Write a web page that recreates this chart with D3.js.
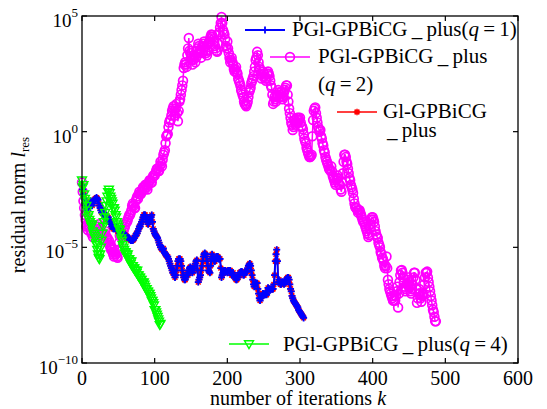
<!DOCTYPE html>
<html>
<head>
<meta charset="utf-8">
<script src="https://cdn.jsdelivr.net/npm/d3@7/dist/d3.min.js"></script>
<style>
  html, body { margin: 0; padding: 0; background: #fff; }
  svg, svg text { font-family: "Liberation Serif", "Times New Roman", Times, serif; }
</style>
</head>
<body>
<svg id="chart" width="547" height="409"></svg>
<script>
// Residual history: log10 of the residual norm, one value per iteration k = 0, 1, 2, ...

// PGl-GPBiCG_plus (q=1)
const q1Log = [
  -2.3,-2.5,-2.7,-2.9,-3.1,-3.2,-3.3,-3.4,-3.4,-3.3,
  -3.2,-3.1,-3.0,-3.1,-3.2,-3.1,-3.0,-2.95,-2.9,-2.9,
  -2.85,-2.9,-2.95,-3.1,-3.2,-3.3,-3.4,-3.5,-3.4,-3.5,
  -3.6,-3.6,-3.7,-3.6,-3.7,-3.8,-3.7,-3.8,-3.9,-3.9,
  -4.0,-4.1,-4.1,-4.2,-4.2,-4.2,-4.1,-4.1,-4.2,-4.3,
  -4.3,-4.3,-4.4,-4.4,-4.3,-4.4,-4.4,-4.4,-4.5,-4.45,
  -4.5,-4.5,-4.55,-4.6,-4.6,-4.6,-4.65,-4.7,-4.7,-4.7,
  -4.7,-4.65,-4.6,-4.5,-4.5,-4.4,-4.4,-4.3,-4.2,-4.1,
  -4.1,-4.0,-3.9,-3.8,-3.7,-3.6,-3.6,-3.6,-3.7,-3.8,
  -3.9,-4.0,-3.9,-3.8,-3.7,-3.7,-3.6,-3.9,-4.2,-4.3,
  -4.4,-4.45,-4.5,-4.55,-4.6,-4.7,-4.8,-4.9,-5.0,-5.0,
  -5.1,-5.1,-5.05,-5.2,-5.25,-5.3,-5.35,-5.4,-5.4,-5.5,
  -5.6,-5.7,-5.8,-5.9,-6.0,-6.1,-6.0,-6.2,-6.3,-6.2,
  -6.0,-5.8,-5.6,-5.5,-5.5,-5.5,-5.6,-5.8,-6.0,-6.2,
  -6.3,-6.4,-6.4,-6.3,-6.2,-6.1,-6.2,-6.0,-5.9,-5.85,
  -5.9,-6.0,-6.1,-6.0,-5.9,-5.8,-5.7,-5.6,-5.55,-6.0,
  -6.5,-6.4,-6.3,-6.2,-6.0,-5.8,-5.6,-5.4,-5.3,-5.25,
  -5.3,-5.4,-5.6,-5.8,-6.0,-6.05,-6.1,-5.8,-5.5,-5.3,
  -5.4,-5.5,-5.6,-5.6,-5.5,-5.4,-5.4,-5.4,-5.5,-5.5,
  -5.5,-5.9,-6.3,-6.2,-6.1,-6.1,-6.0,-6.0,-6.05,-6.05,
  -6.1,-6.0,-6.0,-6.0,-6.0,-6.1,-6.2,-6.2,-6.1,-6.2,
  -6.3,-6.3,-6.4,-6.4,-6.3,-6.3,-6.2,-6.1,-6.1,-6.05,
  -6.05,-6.1,-6.2,-6.2,-6.1,-6.05,-6.05,-6.05,-5.9,-5.8,
  -5.75,-5.7,-5.8,-6.0,-6.2,-6.4,-6.6,-6.7,-6.6,-6.55,
  -6.55,-6.55,-6.8,-7.0,-7.2,-7.3,-7.2,-7.1,-7.1,-7.0,
  -7.0,-7.05,-7.05,-7.0,-7.05,-6.9,-6.75,-6.8,-6.8,-6.85,
  -6.8,-6.8,-6.8,-6.8,-6.6,-6.2,-5.6,-5.3,-5.1,-5.6,
  -6.5,-6.4,-6.5,-6.6,-6.6,-6.5,-6.5,-6.55,-6.6,-6.55,
  -6.5,-6.4,-6.35,-6.3,-6.3,-6.4,-6.6,-6.8,-6.9,-7.1,
  -7.2,-7.3,-7.35,-7.4,-7.45,-7.5,-7.55,-7.6,-7.7,-7.75,
  -7.8,-7.85,-7.9,-7.95,-8.0,-8.05
];

// PGl-GPBiCG_plus (q=2)
const q2Log = [
  -2.2,-2.6,-3.0,-3.3,-3.6,-3.8,-4.1,-4.0,-4.25,-4.1,
  -3.9,-4.1,-4.3,-4.4,-4.2,-4.55,-4.4,-4.3,-4.3,-4.5,
  -4.4,-4.2,-4.1,-4.0,-4.2,-4.4,-4.3,-4.5,-4.6,-4.7,
  -4.5,-4.4,-4.3,-4.5,-4.6,-4.6,-4.8,-4.7,-4.9,-5.0,
  -5.1,-5.0,-5.2,-5.3,-5.4,-5.2,-5.3,-5.3,-5.4,-5.45,
  -5.1,-4.8,-4.5,-4.3,-4.5,-4.6,-4.4,-4.3,-4.2,-4.1,
  -4.0,-3.9,-3.9,-3.8,-3.7,-3.6,-3.6,-3.5,-3.4,-3.2,
  -3.1,-3.2,-3.3,-3.3,-3.0,-2.9,-2.8,-2.9,-2.7,-2.6,
  -2.7,-2.7,-2.6,-2.5,-2.4,-2.4,-2.5,-2.3,-2.3,-2.4,
  -2.5,-2.3,-2.2,-2.1,-2.1,-2.2,-2.2,-2.0,-1.9,-1.9,
  -1.9,-1.8,-1.7,-1.6,-1.6,-1.7,-1.7,-1.5,-1.3,-1.4,
  -1.5,-1.2,-1.0,-0.9,-0.8,-0.5,-0.2,-0.15,-0.1,0.2,
  0.4,0.5,0.5,0.7,0.9,1.0,1.1,0.9,0.7,1.0,
  1.2,0.8,0.45,0.9,1.3,1.4,1.6,1.8,2.0,2.2,
  2.75,2.9,3.0,2.9,2.8,3.3,3.6,4.05,3.5,3.4,
  3.2,3.1,2.9,3.1,3.3,3.2,3.0,3.2,3.5,3.6,
  3.8,3.7,3.5,3.4,3.2,3.4,3.7,3.8,3.9,3.7,
  3.5,3.4,3.3,3.5,3.8,3.9,4.0,4.1,4.2,4.18,
  4.1,4.0,3.9,3.7,3.6,3.5,3.45,3.8,4.2,4.3,
  4.5,4.7,4.96,4.7,4.4,4.3,4.2,4.0,3.7,3.6,
  3.9,3.6,3.4,3.2,3.0,3.1,3.2,3.0,2.9,2.7,
  2.6,2.7,2.8,2.58,2.5,2.3,2.2,2.1,2.0,1.8,
  1.7,1.6,1.5,1.3,1.2,1.15,1.1,1.2,1.3,1.5,
  1.7,1.8,1.9,2.1,2.2,2.3,2.4,2.6,2.8,3.1,
  3.2,3.45,3.3,3.0,2.8,2.7,2.5,2.3,2.4,2.6,
  2.5,2.4,2.3,2.2,2.3,2.5,2.6,2.5,2.4,2.2,
  2.0,1.9,1.6,1.2,1.3,1.5,1.4,1.3,1.5,1.6,
  1.8,1.7,1.5,1.6,1.7,1.5,1.4,1.5,1.7,1.8,
  1.9,2.0,2.0,1.6,1.3,1.0,0.8,0.6,0.4,0.3,
  0.07,0.2,0.5,0.4,0.3,0.4,0.6,0.5,0.6,0.5,
  0.6,0.4,0.25,0.2,0.1,-0.1,-0.3,-0.4,-0.5,-0.7,
  -0.8,-0.9,-1.0,-1.1,-1.1,-1.05,-1.0,-0.2,0.5,0.9,
  1.0,1.05,0.8,0.6,0.4,0.2,0.1,0.0,0.07,-0.2,
  -0.3,-0.5,-0.6,-0.8,-0.9,-1.1,-1.2,-1.3,-1.4,-1.5,
  -1.6,-1.65,-1.7,-1.5,-1.7,-1.9,-2.0,-2.1,-2.2,-2.3,
  -2.1,-2.0,-1.9,-2.0,-2.3,-2.3,-2.5,-2.6,-2.2,-1.8,
  -1.3,-1.0,-1.0,-1.1,-1.3,-1.4,-1.6,-1.8,-2.0,-2.1,
  -2.3,-2.4,-2.5,-2.65,-2.9,-3.1,-3.26,-3.3,-3.3,-3.4,
  -3.5,-3.4,-3.4,-3.5,-3.6,-3.7,-3.8,-3.9,-3.9,-4.0,
  -4.1,-4.2,-4.3,-4.4,-4.55,-4.47,-4.2,-4.0,-3.8,-3.7,
  -3.7,-3.8,-3.9,-4.1,-4.3,-4.45,-4.55,-4.6,-4.8,-4.9,
  -5.0,-5.2,-5.3,-5.45,-5.5,-5.6,-5.8,-5.9,-5.8,-5.4,
  -5.9,-6.4,-6.6,-6.8,-6.9,-7.0,-7.1,-7.2,-7.3,-7.3,
  -7.3,-7.3,-7.1,-6.9,-6.7,-7.6,-7.0,-6.5,-6.2,-6.0,
  -5.98,-6.1,-6.3,-6.5,-6.7,-6.9,-6.8,-6.6,-6.4,-6.3,
  -6.5,-6.7,-6.9,-7.0,-6.8,-6.6,-6.3,-6.1,-6.1,-6.4,
  -6.8,-7.4,-7.2,-7.0,-6.8,-7.0,-7.2,-7.35,-7.1,-7.0,
  -7.05,-6.6,-6.3,-6.1,-6.1,-6.05,-6.3,-6.5,-6.7,-6.9,
  -7.1,-7.3,-7.5,-7.7,-7.8,-8.0,-8.2,-8.2
];

// Gl-GPBiCG_plus: identical residual history to q=1
const glLog = q1Log;

// PGl-GPBiCG_plus (q=4)
const q4Log = [
  -2.1,-2.4,-2.3,-2.7,-2.9,-3.0,-3.2,-3.4,-3.7,-3.6,
  -3.8,-3.9,-4.0,-4.1,-4.0,-4.3,-4.4,-4.5,-4.6,-4.8,
  -4.9,-5.1,-5.3,-5.45,-5.5,-5.3,-5.0,-4.7,-4.4,-4.1,
  -3.9,-3.7,-3.5,-3.2,-3.0,-2.8,-2.6,-2.5,-2.65,-2.8,
  -2.9,-3.0,-3.1,-3.3,-3.3,-3.4,-3.6,-3.7,-3.9,-4.0,
  -4.1,-4.2,-4.25,-4.4,-4.6,-4.7,-4.9,-5.0,-5.1,-5.25,
  -5.2,-5.3,-5.4,-5.3,-5.5,-5.5,-5.6,-5.7,-5.6,-5.8,
  -5.8,-5.9,-5.9,-6.0,-6.0,-6.1,-6.0,-6.2,-6.2,-6.3,
  -6.3,-6.4,-6.4,-6.5,-6.55,-6.5,-6.6,-6.7,-6.8,-6.8,
  -6.9,-6.9,-7.0,-7.0,-7.1,-7.2,-7.3,-7.3,-7.4,-7.5,
  -7.7,-7.7,-7.8,-7.9,-8.0,-8.1,-8.2,-8.35,-8.3
];

const xTicks = [0, 100, 200, 300, 400, 500, 600];
const yTickExps = [-10, -5, 0, 5];

const svg = d3.select("#chart");
const box = { left: 82, right: 518, top: 16, bottom: 363 };

const x = d3.scaleLinear().domain([0, 600]).range([box.left, box.right]);
const y = d3.scaleLog().domain([1e-10, 1e5]).range([box.bottom, box.top]);

// points as [iteration, residual]
const toPts = ls => ls.map((e, k) => [k, Math.pow(10, e)]);
const line = d3.line().x(d => x(d[0])).y(d => y(d[1]));

// marker shapes
const plusPath = "M-3.5,0H3.5M0,-3.5V3.5";
const starPath = "M-3.2,0H3.2M0,-3.2V3.2M-2.4,-2.4L2.4,2.4M-2.4,2.4L2.4,-2.4";
const triPath = "M-4.5,-3.2L4.5,-3.2L0,4.6Z";

const series = [
  { name: "q2", pts: toPts(q2Log), color: "#ff00ff", lw: 1.5, marker: "circle" },
  { name: "gl", pts: toPts(glLog), color: "#ff0000", lw: 1.5, marker: "star" },
  { name: "q1", pts: toPts(q1Log), color: "#0000ff", lw: 2, marker: "plus" },
  { name: "q4", pts: toPts(q4Log), color: "#00ff00", lw: 1.5, marker: "tri" }
];

function drawMarker(g, kind, color) {
  if (kind === "circle") {
    g.append("circle").attr("r", 4.4).attr("fill", "none").attr("stroke", color).attr("stroke-width", 1.7);
  } else if (kind === "plus") {
    g.append("path").attr("d", plusPath).attr("fill", "none").attr("stroke", color).attr("stroke-width", 1.8);
  } else if (kind === "star") {
    g.append("path").attr("d", starPath).attr("fill", "none").attr("stroke", color).attr("stroke-width", 1.5);
  } else {
    g.append("path").attr("d", triPath).attr("fill", "none").attr("stroke", color).attr("stroke-width", 1.4);
  }
}

const plot = svg.append("g");
series.forEach(s => {
  const g = plot.append("g").attr("class", "series-" + s.name);
  g.append("path").datum(s.pts).attr("d", line)
    .attr("fill", "none").attr("stroke", s.color).attr("stroke-width", s.lw);
  g.selectAll("g.m").data(s.pts).join("g").attr("class", "m")
    .attr("transform", d => `translate(${x(d[0])},${y(d[1])})`)
    .each(function () { drawMarker(d3.select(this), s.marker, s.color); });
});

// frame and inward ticks on all four sides
const axisColor = "#000";
svg.append("rect").attr("x", box.left).attr("y", box.top)
  .attr("width", box.right - box.left).attr("height", box.bottom - box.top)
  .attr("fill", "none").attr("stroke", axisColor).attr("stroke-width", 1.3);

const tl = 5;
xTicks.forEach(t => {
  const px = x(t);
  svg.append("line").attr("x1", px).attr("x2", px).attr("y1", box.bottom).attr("y2", box.bottom - tl)
    .attr("stroke", axisColor).attr("stroke-width", 1.2);
  svg.append("line").attr("x1", px).attr("x2", px).attr("y1", box.top).attr("y2", box.top + tl)
    .attr("stroke", axisColor).attr("stroke-width", 1.2);
  svg.append("text").attr("x", px).attr("y", 385).attr("text-anchor", "middle")
    .attr("font-size", 20).text(t);
});

yTickExps.forEach(e => {
  const py = y(Math.pow(10, e));
  svg.append("line").attr("x1", box.left).attr("x2", box.left + tl).attr("y1", py).attr("y2", py)
    .attr("stroke", axisColor).attr("stroke-width", 1.2);
  svg.append("line").attr("x1", box.right).attr("x2", box.right - tl).attr("y1", py).attr("y2", py)
    .attr("stroke", axisColor).attr("stroke-width", 1.2);
  const t = svg.append("text").attr("x", 78).attr("y", py + 11).attr("text-anchor", "end").attr("font-size", 19);
  t.append("tspan").text("10");
  t.append("tspan").attr("dy", -10).attr("font-size", 13).text(e < 0 ? "\u2212" + (-e) : String(e));
});

// axis titles
const xl = svg.append("text").attr("x", 298).attr("y", 405).attr("text-anchor", "middle").attr("font-size", 20);
xl.append("tspan").text("number of iterations ");
xl.append("tspan").attr("font-style", "italic").text("k");

const yl = svg.append("text").attr("transform", "translate(25,205) rotate(-90)")
  .attr("text-anchor", "middle").attr("font-size", 20);
yl.append("tspan").text("residual norm ");
yl.append("tspan").attr("font-style", "italic").text("l");
yl.append("tspan").attr("dy", 4).attr("font-size", 13).text("res");

// legend (no frame)
function legendEntry(cx, cy, color, kind, lw) {
  const g = svg.append("g");
  g.append("line").attr("x1", cx - 20).attr("x2", cx + 20).attr("y1", cy).attr("y2", cy)
    .attr("stroke", color).attr("stroke-width", lw);
  const m = g.append("g").attr("transform", `translate(${cx},${cy})`);
  drawMarker(m, kind, color);
}
function labelText(tx, ty, base, q) {
  const t = svg.append("text").attr("x", tx).attr("y", ty).attr("font-size", 21);
  t.append("tspan").text(base);
  if (q !== undefined) {
    t.append("tspan").text("(");
    t.append("tspan").attr("font-style", "italic").text("q");
    t.append("tspan").text("\u2009=\u2009" + q + ")");
  }
  return t;
}

legendEntry(265, 30, "#0000ff", "plus", 2);
labelText(292, 36, "PGl-GPBiCG\u2009_\u2009plus", 1);

legendEntry(290, 57, "#ff00ff", "circle", 1.5);
labelText(318, 63, "PGl-GPBiCG\u2009_\u2009plus");
labelText(318, 91, "", 2);

legendEntry(357, 112, "#ff0000", "star", 1.5);
labelText(383, 118, "Gl-GPBiCG");
labelText(387, 137, "_\u2009plus");

legendEntry(249, 344, "#00ff00", "tri", 1.5);
labelText(283, 351, "PGl-GPBiCG\u2009_\u2009plus", 4);
</script>
</body>
</html>
